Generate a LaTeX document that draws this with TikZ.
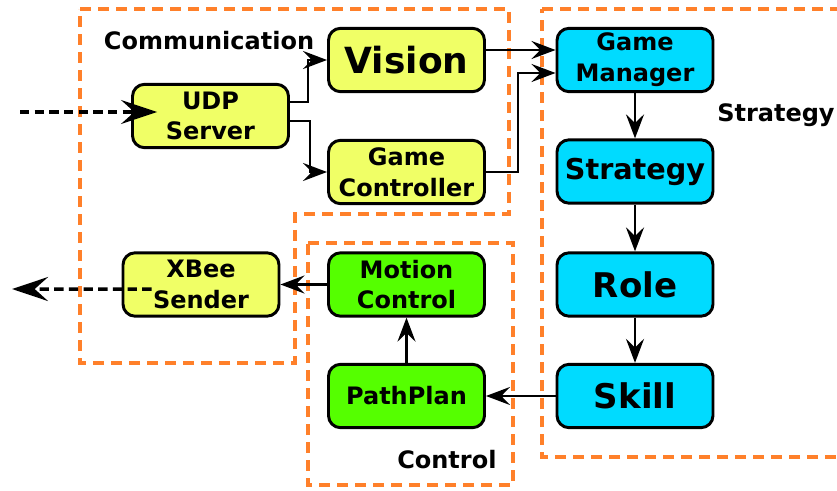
\documentclass[tikz,border=0pt]{standalone}
\usepackage{fontspec}
\setmainfont{DejaVu Sans}
\usepackage{tikz}
\usetikzlibrary{arrows.meta}
\definecolor{commyellow}{RGB}{240,255,102}
\definecolor{stratcyan}{RGB}{0,219,255}
\definecolor{ctrlgreen}{RGB}{85,255,0}
\definecolor{grouporange}{RGB}{255,128,42}
\newcommand{\smalltxt}{\fontsize{18}{23}\selectfont\bfseries}
\newcommand{\bigtxt}{\fontsize{25.5}{30}\selectfont\bfseries}
\newcommand{\midtxt}{\fontsize{21.5}{26}\selectfont\bfseries}

\begin{document}
\begin{tikzpicture}[x=0.75pt,y=0.75pt,yscale=-1,xscale=1,
  blk/.style={draw=black,line width=2.2pt,rounded corners=9pt,minimum width=117pt,minimum height=47.5pt,align=center,font=\smalltxt,inner sep=1pt},
  commblk/.style={blk,fill=commyellow},
  stratblk/.style={blk,fill=stratcyan},
  ctrlblk/.style={blk,fill=ctrlgreen},
  group/.style={draw=grouporange,line width=2.4pt,dash pattern=on 8pt off 5.5pt},
  flow/.style={draw=black,line width=1.9pt,-{Stealth[length=18pt,width=13.5pt,inset=6.5pt]}},
  ext/.style={draw=black,line width=2.6pt,dash pattern=on 7pt off 4pt,-{Stealth[length=27pt,width=18pt,inset=10pt]}},
  grouplabel/.style={font=\smalltxt,inner sep=0pt}]
\useasboundingbox (0,0) rectangle (837,491);

%Groups
\draw[group] (80,9) -- (509,9) -- (509,214) -- (295,214) -- (295,363) -- (80,363) -- cycle ;
\draw[group] (542,9) -- (870,9) -- (870,457) -- (542,457) -- cycle ;
\draw[group] (308,243) -- (513,243) -- (513,485) -- (308,485) -- cycle ;

% Group labels
\node[grouplabel] (commlabel) at (209,41) {Communication};
\node[grouplabel,anchor=base west] (stratlabel) at (717,122) {Strategy};
\node[grouplabel,anchor=base west] (ctrllabel) at (397,468) {Control};

% Communication blocks
\node[commblk] (udp) at (210.5,116) {UDP\\Server};
\node[commblk] (vision) at (406.5,60) {\fontsize{27}{30}\selectfont Vision};
\node[commblk] (gamectrl) at (406.5,172) {Game\\Controller};
\node[commblk] (xbee) at (201,284.5) {XBee\\Sender};

% Strategy blocks
\node[stratblk] (gamemgr) at (635,60) {Game\\Manager};
\node[stratblk] (strategy) at (635,171.5) {\midtxt Strategy};
\node[stratblk] (role) at (635,284.5) {\bigtxt Role};
\node[stratblk] (skill) at (635,396) {\bigtxt Skill};

% Control blocks
\node[ctrlblk] (motion) at (406.5,284.5) {Motion\\Control};
\node[ctrlblk] (pathplan) at (406.5,396) {PathPlan};

% Connectors (yscale=-1 turns the sign of yshift)
\draw[flow] ([yshift=-10.5pt]udp.east) -- ++(18,0) |- (vision.west);
\draw[flow] ([yshift=3.75pt]udp.east) -- ++(20,0) |- (gamectrl.west);
\draw[flow] ([yshift=-7.5pt]vision.east) -- ([yshift=-7.5pt]gamemgr.west);
\draw[flow] (gamectrl.east) -- ++(32,0) |- ([yshift=9.75pt]gamemgr.west);
\draw[flow] (gamemgr.south) -- (strategy.north);
\draw[flow] (strategy.south) -- (role.north);
\draw[flow] (role.south) -- (skill.north);
\draw[flow] (skill.west) -- (pathplan.east);
\draw[flow] (pathplan.north) -- (motion.south);
\draw[flow] (motion.west) -- (xbee.east);

% Outside links
\coordinate (netin) at (20,112);
\coordinate (netout) at (12,289);
\draw[ext] (netin) -- ([xshift=19.5pt,yshift=-3pt]udp.west);
\draw[ext] ([shift={(22.5pt,3.5pt)}]xbee.west) -- (netout);

\end{tikzpicture}
\end{document}
